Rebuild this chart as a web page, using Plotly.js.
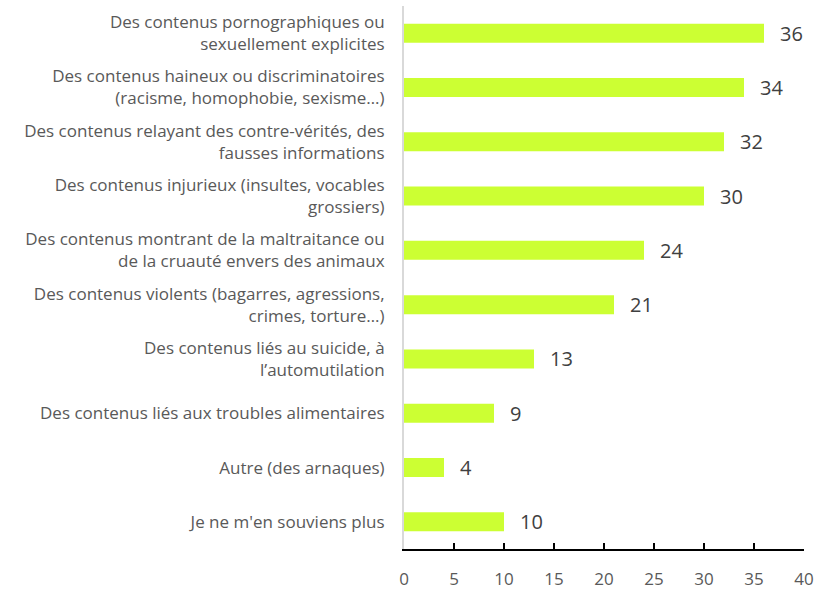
<!DOCTYPE html>
<html>
<head>
<meta charset="utf-8">
<script src="https://cdn.plot.ly/plotly-3.0.1.min.js"></script>
<style>html,body{margin:0;padding:0;background:#fff;}#chart{width:830px;height:589px;}</style>
</head>
<body>
<div id="chart"></div>
<script>
const categories = [
  "Des contenus pornographiques ou<br>sexuellement explicites",
  "Des contenus haineux ou discriminatoires<br>(racisme, homophobie, sexisme…)",
  "Des contenus relayant des contre-vérités, des<br>fausses informations",
  "Des contenus injurieux (insultes, vocables<br>grossiers)",
  "Des contenus montrant de la maltraitance ou<br>de la cruauté envers des animaux",
  "Des contenus violents (bagarres, agressions,<br>crimes, torture…)",
  "Des contenus liés au suicide, à<br>l’automutilation",
  "Des contenus liés aux troubles alimentaires",
  "Autre (des arnaques)",
  "Je ne m'en souviens plus"
];
const values = [36, 34, 32, 30, 24, 21, 13, 9, 4, 10];
const xTicks = [0, 5, 10, 15, 20, 25, 30, 35, 40];

const trace = {
  type: 'bar',
  orientation: 'h',
  y: categories,
  x: values,
  marker: {color: '#CCFF33'},
  hoverinfo: 'none'
};

const annotations = values.map((v, i) => ({
  x: v, y: categories[i], xref: 'x', yref: 'y',
  text: String(v), showarrow: false, xanchor: 'left', xshift: 14,
  font: {family: 'Open Sans', size: 20, color: '#404040'}
}));

const layout = {
  width: 830, height: 589,
  margin: {l: 404, r: 26, t: 6, b: 40},
  paper_bgcolor: '#fff', plot_bgcolor: '#fff',
  bargap: 0.65,
  showlegend: false,
  xaxis: {
    range: [0, 40], tickvals: xTicks, ticktext: xTicks.map(String),
    showgrid: false, zeroline: false,
    showline: true, linecolor: '#000', linewidth: 2,
    ticks: 'inside', ticklen: 6, tickwidth: 1.5, tickcolor: '#000',
    ticklabelstandoff: 14,
    tickfont: {family: 'Open Sans', size: 17, color: '#595959'},
    fixedrange: true
  },
  yaxis: {
    autorange: 'reversed', type: 'category',
    showgrid: false, zeroline: false,
    showline: true, linecolor: '#d9d9d9', linewidth: 2,
    ticks: '', ticklabelstandoff: 14,
    tickfont: {family: 'Open Sans', size: 17, color: '#595959'},
    fixedrange: true
  },
  annotations: annotations,
  font: {family: 'Open Sans'}
};

Plotly.newPlot('chart', [trace], layout, {displayModeBar: false, staticPlot: true});
</script>
</body>
</html>
